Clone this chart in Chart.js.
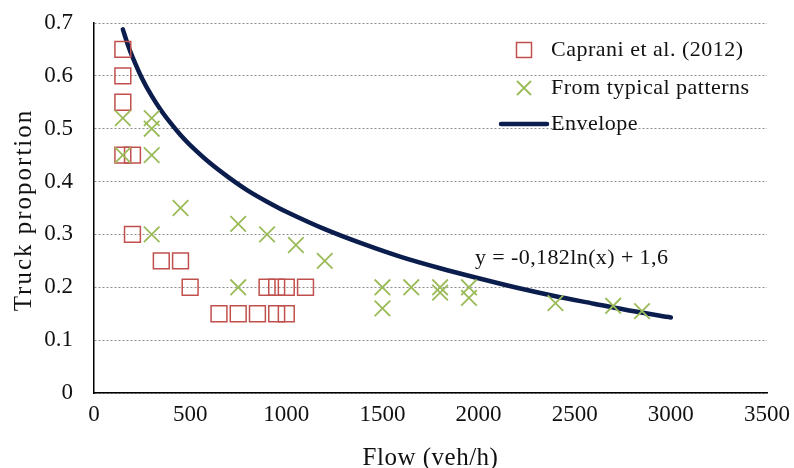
<!DOCTYPE html>
<html>
<head>
<meta charset="utf-8">
<script src="https://cdn.jsdelivr.net/npm/chart.js@4.4.1/dist/chart.umd.min.js"></script>
<style>
  html, body { margin: 0; padding: 0; background: #ffffff; }
  #wrap { width: 794px; height: 468px; position: relative; }
</style>
</head>
<body>
<div id="wrap"><canvas id="c" width="794" height="468"></canvas></div>
<script>
// Caprani et al. (2012) observations: flow (veh/h) and truck proportion
const capraniFlow  = [150, 150, 150, 150, 200, 200, 350, 450, 500, 900, 950, 1000, 1100, 650, 750, 850, 950, 1000];
const capraniShare = [0.65, 0.60, 0.55, 0.45, 0.45, 0.30, 0.25, 0.25, 0.20, 0.20, 0.20, 0.20, 0.20, 0.15, 0.15, 0.15, 0.15, 0.15];

// Values derived from typical traffic patterns
const typicalFlow  = [150, 150, 300, 300, 300, 300, 450, 750, 750, 900, 1050, 1200, 1500, 1500, 1650, 1800, 1800, 1950, 1950, 2400, 2700, 2850];
const typicalShare = [0.52, 0.45, 0.52, 0.50, 0.45, 0.30, 0.35, 0.32, 0.20, 0.30, 0.28, 0.25, 0.20, 0.16, 0.20, 0.20, 0.19, 0.20, 0.18, 0.17, 0.165, 0.155];

// Envelope curve points
const envelopeFlow  = [150, 175, 200, 250, 300, 350, 400, 450, 500, 600, 700, 800, 900, 1000, 1200, 1400, 1600, 1800, 2000, 2200, 2400, 2600, 2800, 3000];
const envelopeShare = [0.688, 0.660, 0.636, 0.595, 0.562, 0.534, 0.510, 0.488, 0.469, 0.436, 0.408, 0.383, 0.362, 0.343, 0.310, 0.282, 0.257, 0.236, 0.217, 0.199, 0.183, 0.169, 0.155, 0.143];

// Axis ticks
const xTicks = [0, 500, 1000, 1500, 2000, 2500, 3000, 3500];
const yTicks = [0, 0.1, 0.2, 0.3, 0.4, 0.5, 0.6, 0.7];

const legendLabels = ['Caprani et al. (2012)', 'From typical patterns', 'Envelope'];
const equationText = 'y = -0,182ln(x) + 1,6';
const xTitle = 'Flow (veh/h)';
const yTitle = 'Truck proportion';

const RED = '#c0504d';
const GREEN = '#9bbb59';
const NAVY = '#0b1d4d';
const INK = '#111111';
const SERIF = "'Liberation Serif', 'Times New Roman', serif";

const toPoints = (xs, ys) => xs.map((x, i) => ({ x: x, y: ys[i] }));

function spacedText(ctx, text, x, y, spacing) {
  if ('letterSpacing' in ctx) ctx.letterSpacing = spacing + 'px';
  ctx.fillText(text, x, y);
  if ('letterSpacing' in ctx) ctx.letterSpacing = '0px';
}

// Legend block, equation label and axis titles
const overlay = {
  id: 'overlay',
  afterDraw(chart) {
    const ctx = chart.ctx;
    const area = chart.chartArea;
    ctx.save();
    ctx.fillStyle = INK;

    // legend
    ctx.font = '22px ' + SERIF;
    ctx.textAlign = 'left';
    ctx.textBaseline = 'middle';
    const mx = 524, tx = 551;
    const rows = [50, 88, 124];

    ctx.strokeStyle = RED;
    ctx.lineWidth = 1.5;
    ctx.strokeRect(mx - 7.5, rows[0] - 7.5, 15, 15);

    ctx.strokeStyle = GREEN;
    ctx.lineWidth = 1.8;
    ctx.beginPath();
    ctx.moveTo(mx - 7, rows[1] - 7); ctx.lineTo(mx + 7, rows[1] + 7);
    ctx.moveTo(mx + 7, rows[1] - 7); ctx.lineTo(mx - 7, rows[1] + 7);
    ctx.stroke();

    ctx.strokeStyle = NAVY;
    ctx.lineWidth = 4.5;
    ctx.lineCap = 'round';
    ctx.beginPath();
    ctx.moveTo(501, rows[2]); ctx.lineTo(547, rows[2]);
    ctx.stroke();

    legendLabels.forEach((t, i) => spacedText(ctx, t, tx, rows[i], 0.5));

    // fitted equation
    ctx.textBaseline = 'alphabetic';
    spacedText(ctx, equationText, 475, 264, 0.4);

    // x axis title
    ctx.font = '25px ' + SERIF;
    ctx.textAlign = 'center';
    spacedText(ctx, xTitle, (area.left + area.right) / 2, 465, 0.5);

    // y axis title
    ctx.translate(31, (area.top + area.bottom) / 2 + 2);
    ctx.rotate(-Math.PI / 2);
    spacedText(ctx, yTitle, 0, 0, 2);
    ctx.restore();
  }
};

new Chart(document.getElementById('c'), {
  type: 'scatter',
  data: {
    datasets: [
      {
        label: legendLabels[0],
        data: toPoints(capraniFlow, capraniShare),
        pointStyle: 'rect',
        pointRadius: 11.2,
        pointHoverRadius: 11.2,
        pointBorderWidth: 1.5,
        borderColor: RED,
        backgroundColor: 'rgba(0,0,0,0)',
        order: 2
      },
      {
        label: legendLabels[1],
        data: toPoints(typicalFlow, typicalShare),
        pointStyle: 'crossRot',
        pointRadius: 11,
        pointHoverRadius: 11,
        pointBorderWidth: 1.8,
        borderColor: GREEN,
        backgroundColor: GREEN,
        order: 1
      },
      {
        label: legendLabels[2],
        type: 'line',
        data: toPoints(envelopeFlow, envelopeShare),
        showLine: true,
        borderColor: NAVY,
        borderWidth: 4.5,
        borderCapStyle: 'round',
        borderJoinStyle: 'round',
        pointRadius: 0,
        tension: 0.3,
        fill: false,
        order: 3
      }
    ]
  },
  options: {
    responsive: false,
    animation: false,
    devicePixelRatio: 1,
    layout: { padding: { top: 23, right: 27, bottom: 0, left: 0 } },
    plugins: {
      legend: { display: false },
      tooltip: { enabled: false }
    },
    scales: {
      x: {
        type: 'linear',
        min: 0,
        max: 3500,
        afterBuildTicks(s) { s.ticks = xTicks.map(v => ({ value: v })); },
        afterFit(s) { s.height = 75; s.paddingLeft = 0; s.paddingRight = 0; },
        grid: { display: false, drawTicks: false },
        border: { display: true, color: '#000', width: 1.5 },
        ticks: {
          padding: 8,
          color: INK,
          font: { family: SERIF, size: 23 },
          maxRotation: 0,
          callback: v => String(v)
        }
      },
      y: {
        type: 'linear',
        min: 0,
        max: 0.7,
        afterBuildTicks(s) { s.ticks = yTicks.map(v => ({ value: v })); },
        afterFit(s) { s.width = 94; s.paddingTop = 0; s.paddingBottom = 0; },
        grid: { display: true, drawTicks: false, color: '#8c8c8c', lineWidth: 1 },
        border: { display: true, color: '#000', width: 1.5, dash: [2, 2] },
        ticks: {
          padding: 21,
          color: INK,
          font: { family: SERIF, size: 23 },
          callback: v => (v === 0 ? '0' : v.toFixed(1))
        }
      }
    }
  },
  plugins: [overlay]
});
</script>
</body>
</html>
